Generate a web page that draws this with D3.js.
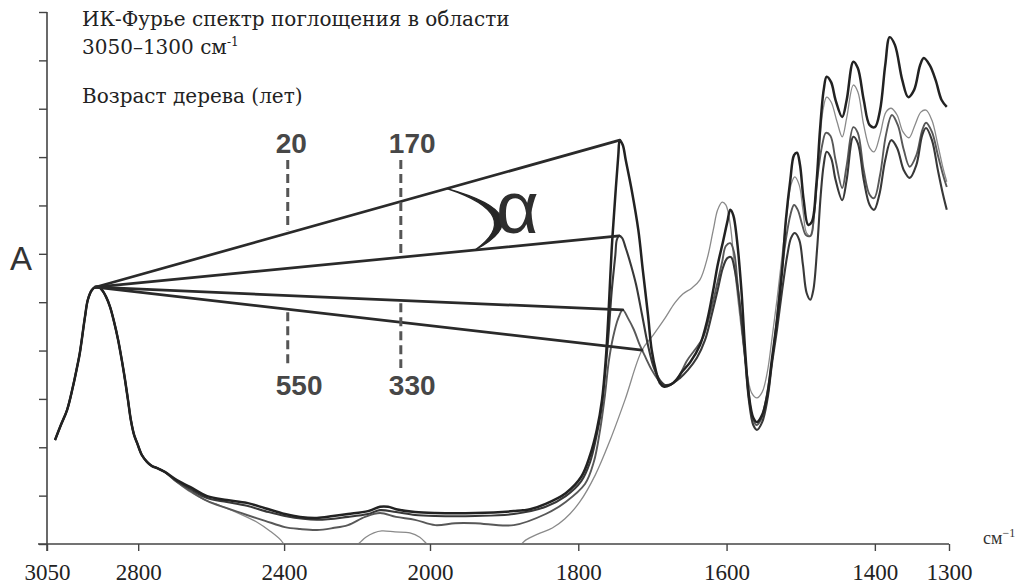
<!DOCTYPE html>
<html>
<head>
<meta charset="utf-8">
<script src="https://cdn.jsdelivr.net/npm/d3@7"></script>
<style>
  html, body { margin: 0; padding: 0; background: #ffffff; }
  svg { display: block; }
  .serif { font-family: "Liberation Serif", "Times New Roman", "DejaVu Serif", serif; }
  .bookserif { font-family: "DejaVu Serif", "Liberation Serif", serif; }
  .sans { font-family: "Liberation Sans", Arial, "DejaVu Sans", sans-serif; }
</style>
</head>
<body>
<script>
// FTIR absorbance spectra of wood of different age, 3050–1300 cm-1.
// Wavenumber [cm-1], absorbance (arbitrary units, axis ticks every 0.1).

// C–H stretching band shared by all samples (normalised at 2918 cm-1)
const chBand = [[3028,0.215],[3012,0.246],[2995,0.277],[2979,0.325],[2968,0.364],[2960,0.395],[2946,0.469],[2938,0.505],[2927,0.525],[2918,0.531],[2907,0.531],[2899,0.525],[2888,0.511],[2877,0.490],[2866,0.459],[2855,0.422],[2844,0.376],[2836,0.339],[2828,0.298],[2820,0.256],[2811,0.225],[2803,0.209],[2790,0.184],[2776,0.170],[2762,0.161],[2748,0.157],[2727,0.149]];

const age20 = [[2694,0.132],[2658,0.118],[2611,0.099],[2557,0.091],[2502,0.085],[2452,0.074],[2398,0.062],[2356,0.056],[2310,0.054],[2266,0.058],[2225,0.062],[2170,0.068],[2137,0.077],[2115,0.077],[2093,0.072],[2041,0.066],[1993,0.064],[1939,0.064],[1887,0.068],[1865,0.072],[1844,0.083],[1817,0.105],[1796,0.139],[1784,0.184],[1775,0.236],[1768,0.298],[1763,0.380],[1759,0.484],[1755,0.608],[1750,0.722],[1746,0.804],[1744,0.835],[1740,0.825],[1736,0.794],[1728,0.732],[1719,0.649],[1713,0.567],[1706,0.474],[1701,0.401],[1695,0.356],[1690,0.333],[1684,0.325],[1676,0.329],[1668,0.339],[1660,0.356],[1649,0.376],[1636,0.411],[1626,0.463],[1618,0.525],[1612,0.577],[1605,0.624],[1599,0.666],[1595,0.691],[1591,0.680],[1586,0.629],[1580,0.525],[1575,0.401],[1570,0.308],[1564,0.261],[1559,0.252],[1552,0.267],[1545,0.308],[1539,0.380],[1532,0.463],[1525,0.567],[1520,0.670],[1514,0.753],[1509,0.804],[1505,0.809],[1501,0.784],[1496,0.711],[1490,0.660],[1485,0.666],[1479,0.742],[1474,0.856],[1469,0.939],[1465,0.966],[1459,0.955],[1453,0.918],[1444,0.883],[1438,0.918],[1429,0.997],[1423,0.984],[1415,0.918],[1407,0.866],[1400,0.862],[1393,0.897],[1386,0.990],[1380,1.048],[1373,1.032],[1363,0.959],[1355,0.924],[1347,0.939],[1339,0.990],[1334,1.005],[1326,0.990],[1318,0.959],[1310,0.918],[1303,0.904]];

const age170 = [[2694,0.130],[2658,0.114],[2611,0.095],[2557,0.087],[2502,0.079],[2452,0.068],[2398,0.058],[2310,0.050],[2225,0.056],[2170,0.062],[2137,0.070],[2093,0.066],[2041,0.060],[1993,0.058],[1939,0.058],[1887,0.062],[1844,0.077],[1817,0.099],[1796,0.130],[1784,0.170],[1776,0.219],[1769,0.277],[1764,0.349],[1759,0.438],[1755,0.521],[1750,0.598],[1748,0.629],[1745,0.637],[1741,0.633],[1736,0.612],[1729,0.577],[1722,0.536],[1714,0.474],[1706,0.411],[1698,0.364],[1690,0.339],[1683,0.329],[1674,0.331],[1663,0.343],[1652,0.360],[1640,0.385],[1629,0.422],[1620,0.474],[1612,0.525],[1605,0.571],[1599,0.591],[1594,0.593],[1589,0.567],[1583,0.505],[1576,0.401],[1570,0.298],[1564,0.246],[1559,0.236],[1552,0.252],[1545,0.298],[1539,0.370],[1532,0.443],[1525,0.525],[1518,0.598],[1513,0.633],[1508,0.643],[1502,0.629],[1497,0.577],[1492,0.519],[1487,0.505],[1483,0.525],[1478,0.608],[1473,0.722],[1469,0.784],[1465,0.811],[1459,0.798],[1453,0.753],[1444,0.711],[1438,0.753],[1429,0.842],[1423,0.829],[1415,0.753],[1407,0.701],[1401,0.691],[1394,0.722],[1386,0.794],[1378,0.835],[1370,0.819],[1361,0.773],[1353,0.757],[1344,0.784],[1336,0.846],[1331,0.860],[1323,0.835],[1315,0.773],[1308,0.722],[1303,0.691]];

const age330 = [[2694,0.128],[2658,0.110],[2611,0.089],[2557,0.074],[2502,0.060],[2452,0.048],[2398,0.035],[2356,0.031],[2310,0.029],[2266,0.033],[2225,0.039],[2178,0.056],[2137,0.064],[2093,0.056],[2041,0.050],[1993,0.039],[1966,0.043],[1939,0.043],[1887,0.039],[1844,0.062],[1817,0.087],[1791,0.124],[1779,0.170],[1771,0.232],[1764,0.308],[1759,0.376],[1753,0.428],[1746,0.467],[1740,0.484],[1733,0.467],[1725,0.443],[1717,0.411],[1709,0.385],[1701,0.360],[1692,0.339],[1684,0.327],[1676,0.329],[1666,0.343],[1653,0.380],[1643,0.401],[1632,0.426],[1621,0.484],[1613,0.536],[1606,0.583],[1601,0.616],[1595,0.622],[1590,0.604],[1585,0.536],[1578,0.432],[1571,0.329],[1566,0.267],[1560,0.246],[1554,0.256],[1547,0.298],[1540,0.364],[1533,0.453],[1527,0.546],[1520,0.629],[1514,0.680],[1509,0.701],[1504,0.691],[1498,0.660],[1493,0.639],[1487,0.637],[1482,0.680],[1477,0.763],[1471,0.825],[1466,0.850],[1460,0.844],[1453,0.794],[1444,0.736],[1438,0.783],[1429,0.862],[1423,0.850],[1415,0.773],[1407,0.722],[1401,0.715],[1393,0.763],[1385,0.846],[1377,0.887],[1369,0.866],[1361,0.815],[1353,0.780],[1344,0.804],[1336,0.856],[1331,0.871],[1323,0.852],[1315,0.804],[1308,0.763],[1303,0.738]];

const age550 = [[2694,0.128],[2658,0.108],[2617,0.091],[2581,0.081],[2526,0.064],[2474,0.045],[2439,0.027],[2409,0.008],[2384,-0.017],[2329,-0.033],[2247,-0.025],[2197,0.000],[2176,0.014],[2154,0.023],[2132,0.027],[2096,0.025],[2055,0.023],[2028,0.014],[2006,-0.002],[1987,-0.025],[1933,-0.037],[1885,-0.012],[1871,0.008],[1854,0.021],[1835,0.033],[1818,0.052],[1798,0.087],[1777,0.143],[1757,0.215],[1737,0.298],[1714,0.401],[1699,0.432],[1683,0.467],[1670,0.498],[1659,0.517],[1647,0.529],[1636,0.546],[1626,0.591],[1618,0.649],[1612,0.691],[1606,0.707],[1601,0.701],[1595,0.660],[1589,0.567],[1580,0.443],[1572,0.349],[1566,0.312],[1559,0.302],[1552,0.314],[1545,0.356],[1539,0.422],[1532,0.505],[1525,0.598],[1518,0.691],[1513,0.743],[1508,0.759],[1502,0.742],[1497,0.691],[1492,0.643],[1486,0.637],[1481,0.701],[1475,0.815],[1470,0.897],[1465,0.924],[1459,0.914],[1451,0.873],[1444,0.842],[1438,0.881],[1429,0.949],[1423,0.935],[1415,0.866],[1407,0.819],[1401,0.811],[1393,0.846],[1385,0.893],[1378,0.901],[1370,0.887],[1362,0.852],[1354,0.840],[1346,0.866],[1338,0.893],[1331,0.897],[1323,0.876],[1315,0.825],[1308,0.777],[1303,0.749]];

// Sample ages (years) and the point each angle ray ends at (C=O band near 1740 cm-1)
const ages = ["20", "170", "330", "550"];
const rayVertex = [2918, 0.531];
const rayEnds = [[1744, 0.835], [1745, 0.637], [1740, 0.484], [1714, 0.401]];
// Where each age label sits along the wavenumber axis, and on which side of the rays
const labelWn = [2390, 2080, 2080, 2390];
const labelSide = ["top", "top", "bottom", "bottom"];

const xTicks = [3050, 2800, 2400, 2000, 1800, 1600, 1400, 1300];
const yTicks = [0, 0.1, 0.2, 0.3, 0.4, 0.5, 0.6, 0.7, 0.8, 0.9, 1.0, 1.1];

const spectra = [age20, age170, age330, age550].map(s => chBand.concat(s));

const W = 1026, H = 586;
const svg = d3.select("body").append("svg").attr("width", W).attr("height", H);
svg.append("rect").attr("width", W).attr("height", H).attr("fill", "#ffffff");

// Wavenumber axis with the usual x2 expansion below 2000 cm-1
const x = d3.scaleLinear().domain([3050, 2000, 1300]).range([47, 430, 949]);
const y = d3.scaleLinear().domain([0, 1.1]).range([544, 12]);

svg.append("clipPath").attr("id", "plot")
  .append("rect").attr("x", 47).attr("y", 0).attr("width", 920).attr("height", 543);

// Axes
const xAxis = svg.append("g").attr("transform", "translate(0,544)")
  .call(d3.axisBottom(x).tickValues(xTicks).tickSize(7).tickSizeOuter(0).tickFormat(d3.format("d")));
xAxis.attr("font-family", null).attr("font-size", null);
xAxis.select(".domain").remove();
xAxis.selectAll(".tick line").attr("stroke", "#444").attr("stroke-width", 1.4);
xAxis.selectAll(".tick text")
  .attr("class", "serif")
  .attr("y", 20)
  .attr("fill", "#222")
  .attr("font-size", 23);
svg.append("line").attr("x1", 38).attr("x2", x(1300)).attr("y1", 544).attr("y2", 544)
  .attr("stroke", "#444").attr("stroke-width", 1.6);

const yAxis = svg.append("g").attr("transform", "translate(47,0)")
  .call(d3.axisLeft(y).tickValues(yTicks).tickSize(8).tickSizeOuter(0).tickFormat(""));
yAxis.select(".domain").remove();
yAxis.selectAll(".tick line").attr("stroke", "#444").attr("stroke-width", 1.4);
svg.append("line").attr("x1", 47).attr("x2", 47).attr("y1", y(1.1)).attr("y2", 551)
  .attr("stroke", "#444").attr("stroke-width", 1.6);

svg.append("text").attr("class", "sans").attr("x", 10).attr("y", 270)
  .attr("font-size", 33).attr("fill", "#333").text("A");

const unit = svg.append("text").attr("class", "serif").attr("x", 983).attr("y", 544)
  .attr("font-size", 18).attr("fill", "#333");
unit.append("tspan").text("см");
unit.append("tspan").attr("dy", -7).attr("font-size", 12).text("−1");

// Title block
const titleSize = 20;
svg.append("text").attr("class", "bookserif").attr("x", 82).attr("y", 26)
  .attr("font-size", titleSize).attr("fill", "#222")
  .text("ИК-Фурье спектр поглощения в области");
const t2 = svg.append("text").attr("class", "bookserif").attr("x", 82).attr("y", 54)
  .attr("font-size", titleSize).attr("fill", "#222");
t2.append("tspan").text("3050–1300 см");
t2.append("tspan").attr("dy", -8).attr("font-size", 12).text("-1");
svg.append("text").attr("class", "bookserif").attr("x", 82).attr("y", 103)
  .attr("font-size", titleSize).attr("fill", "#222")
  .text("Возраст дерева (лет)");

// Spectra
const styles = [
  { stroke: "#222222", width: 2.5 },
  { stroke: "#383838", width: 2.1 },
  { stroke: "#585858", width: 1.9 },
  { stroke: "#8a8a8a", width: 1.3 }
];
const line = d3.line().x(d => x(d[0])).y(d => y(d[1])).curve(d3.curveCatmullRom.alpha(0.5));
const order = [3, 2, 1, 0];
svg.append("g").attr("clip-path", "url(#plot)")
  .selectAll("path").data(order).join("path")
  .attr("d", i => line(spectra[i]))
  .attr("fill", "none")
  .attr("stroke", i => styles[i].stroke)
  .attr("stroke-width", i => styles[i].width)
  .attr("stroke-linejoin", "round");

// Angle rays from the C–H maximum to the carbonyl band of each sample
const vx = x(rayVertex[0]), vy = y(rayVertex[1]);
const rayY = (end, px) => vy + (y(end[1]) - vy) * (px - vx) / (x(end[0]) - vx);
svg.append("g").selectAll("line").data(rayEnds).join("line")
  .attr("x1", vx).attr("y1", vy)
  .attr("x2", d => x(d[0])).attr("y2", d => y(d[1]))
  .attr("stroke", "#2a2a2a").attr("stroke-width", 2.7).attr("stroke-linecap", "round");

// Dashed leaders and age labels
ages.forEach((age, i) => {
  const px = x(labelWn[i]);
  const ry = rayY(rayEnds[i], px);
  const top = labelSide[i] === "top";
  svg.append("line")
    .attr("x1", px).attr("x2", px)
    .attr("y1", top ? 160 : ry + 3).attr("y2", top ? ry - 3 : 368)
    .attr("stroke", "#555").attr("stroke-width", 3).attr("stroke-dasharray", "9,5");
  svg.append("text").attr("class", "sans")
    .attr("x", px - 12).attr("y", top ? 153 : 395)
    .attr("font-size", 28).attr("font-weight", "bold")
    .attr("fill", "#474747").text(age);
});

// Angle mark between the two upper rays
const ax1 = 447, ax2 = 475;
const p1 = [ax1, rayY(rayEnds[0], ax1)], p2 = [ax2, rayY(rayEnds[1], ax2)];
const cx = 2 * 497 - (p1[0] + p2[0]) / 2, cy = 2 * 217 - (p1[1] + p2[1]) / 2;
svg.append("path")
  .attr("d", `M${p1[0]},${p1[1]} Q${cx + 8},${cy} ${p2[0]},${p2[1]} Q${cx - 8},${cy} ${p1[0]},${p1[1]} Z`)
  .attr("fill", "#262626").attr("stroke", "#262626").attr("stroke-width", 1.2);
svg.append("text").attr("class", "sans").attr("x", 496).attr("y", 233)
  .attr("font-size", 74).attr("fill", "#2e2e2e").text("α");
</script>
</body>
</html>
